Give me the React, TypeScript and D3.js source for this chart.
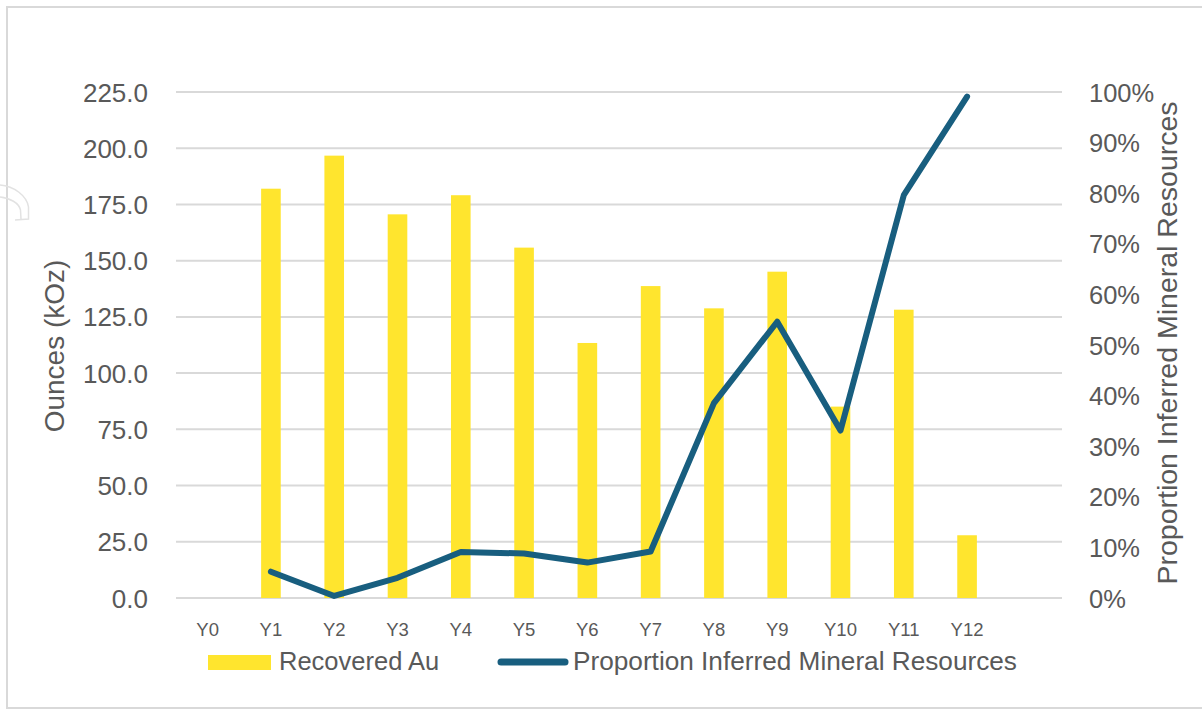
import React from "react";
import * as d3 from "d3";

// Mine plan by year
const categories = ["Y0", "Y1", "Y2", "Y3", "Y4", "Y5", "Y6", "Y7", "Y8", "Y9", "Y10", "Y11", "Y12"];
// Recovered gold, thousand ounces
const recoveredAu: (number | null)[] = [null, 182.0, 196.7, 170.6, 179.1, 155.8, 113.4, 138.7, 128.8, 145.1, 85.1, 128.2, 27.9];
// Share of the year's feed that comes from inferred resources, percent
const inferredShare: (number | null)[] = [null, 5.2, 0.4, 4.0, 9.1, 8.8, 7.0, 9.2, 38.5, 54.6, 33.1, 79.6, 99.1];

const leftTicks = [0, 25, 50, 75, 100, 125, 150, 175, 200, 225];
const rightTicks = [0, 10, 20, 30, 40, 50, 60, 70, 80, 90, 100];

const W = 1202;
const H = 709;
const plot = { left: 176, right: 1062, top: 92, bottom: 598 };

const BAR = "#FFE52E";
const LINE = "#185E7F";
const GRID = "#D9D9D9";
const TEXT = "#595959";
const FONT = "'Liberation Sans', Arial, sans-serif";

export default function App() {
  // one empty slot after the last year keeps the axis open on the right
  const slots = categories.length + 1;
  const step = (plot.right - plot.left) / slots;
  const x = d3
    .scaleBand<string>()
    .domain(categories)
    .range([plot.left, plot.left + step * categories.length])
    .paddingInner(0.69)
    .paddingOuter(0.345);

  const yL = d3.scaleLinear().domain([0, 225]).range([plot.bottom, plot.top]);
  const yR = d3.scaleLinear().domain([0, 100]).range([plot.bottom, plot.top]);

  const cx = (c: string) => (x(c) ?? 0) + x.bandwidth() / 2;

  const linePts = categories
    .map((c, i) => ({ c, v: inferredShare[i] }))
    .filter((d) => d.v != null) as { c: string; v: number }[];
  const linePath = d3
    .line<{ c: string; v: number }>()
    .x((d) => cx(d.c))
    .y((d) => yR(d.v))(linePts);

  return (
    <svg
      width={W}
      height={H}
      viewBox={`0 0 ${W} ${H}`}
      style={{ position: "absolute", left: 0, top: 0, background: "#fff" }}
    >
      <rect x={0} y={0} width={W} height={H} fill="#fff" />
      <rect x={7} y={7} width={W + 20} height={701} fill="none" stroke={GRID} strokeWidth={2} />
      {/* faint hook outline at the left edge */}
      <path d="M0,185 C14,186 27,196 28.5,207 L28.5,219 L15,220" fill="none" stroke="#E2E2E2" strokeWidth={1.5} />
      <path d="M0,197 C10,198 19,203 20.5,210 L21,219" fill="none" stroke="#E2E2E2" strokeWidth={1.5} />

      {/* gridlines */}
      {leftTicks.map((t) => (
        <line key={t} x1={plot.left} x2={plot.right} y1={yL(t)} y2={yL(t)} stroke={GRID} strokeWidth={2} />
      ))}

      {/* bars */}
      {categories.map((c, i) =>
        recoveredAu[i] == null ? null : (
          <rect
            key={c}
            x={x(c)}
            y={yL(recoveredAu[i] as number)}
            width={x.bandwidth()}
            height={yL(0) - yL(recoveredAu[i] as number)}
            fill={BAR}
          />
        )
      )}

      {/* proportion line */}
      <path d={linePath ?? ""} fill="none" stroke={LINE} strokeWidth={6} strokeLinejoin="round" strokeLinecap="round" />

      {/* left axis labels */}
      {leftTicks.map((t) => (
        <text key={t} x={148} y={yL(t) + 9.5} textAnchor="end" fontFamily={FONT} fontSize={26} fill={TEXT}>
          {d3.format(".1f")(t)}
        </text>
      ))}
      {/* right axis labels */}
      {rightTicks.map((t) => (
        <text key={t} x={1089} y={yR(t) + 9.5} textAnchor="start" fontFamily={FONT} fontSize={25.5} fill={TEXT}>
          {`${t}%`}
        </text>
      ))}
      {/* category labels */}
      {categories.map((c) => (
        <text key={c} x={cx(c)} y={636} textAnchor="middle" fontFamily={FONT} fontSize={18.5} fill={TEXT}>
          {c}
        </text>
      ))}

      {/* axis titles */}
      <text
        transform="translate(64,346) rotate(-90)"
        textAnchor="middle"
        fontFamily={FONT}
        fontSize={28}
        fill={TEXT}
      >
        Ounces (kOz)
      </text>
      <text
        transform="translate(1177,343) rotate(-90)"
        textAnchor="middle"
        fontFamily={FONT}
        fontSize={28.5}
        fill={TEXT}
      >
        Proportion Inferred Mineral Resources
      </text>

      {/* legend */}
      <rect x={208} y={655} width={63} height={15} fill={BAR} />
      <text x={279} y={670} fontFamily={FONT} fontSize={25.5} fill={TEXT}>
        Recovered Au
      </text>
      <line x1={501} x2={565} y1={662} y2={662} stroke={LINE} strokeWidth={7} strokeLinecap="round" />
      <text x={573} y={670} fontFamily={FONT} fontSize={26.2} fill={TEXT}>
        Proportion Inferred Mineral Resources
      </text>
    </svg>
  );
}
